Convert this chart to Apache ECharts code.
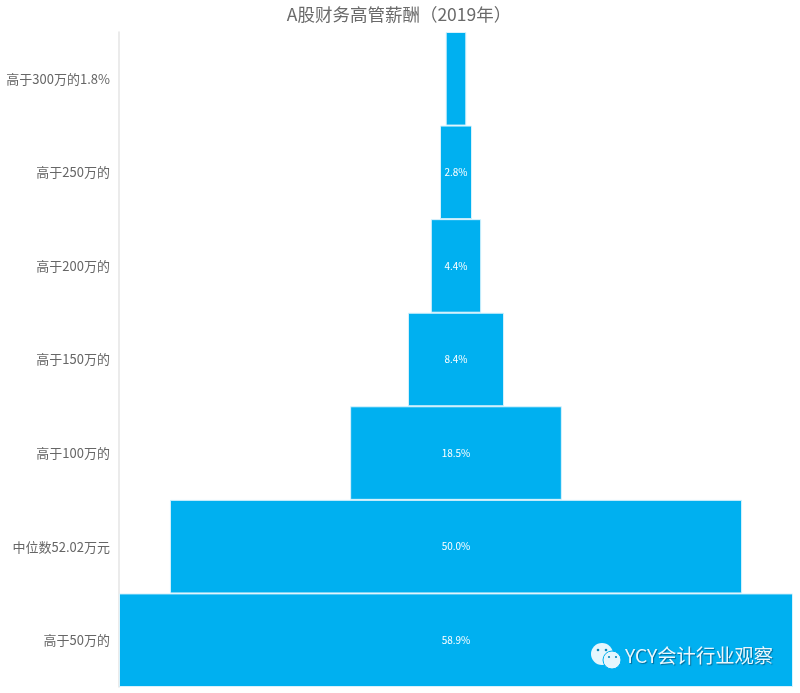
<!DOCTYPE html>
<html><head><meta charset="utf-8">
<style>html,body{margin:0;padding:0;background:#fff}#c{width:800px;height:693px}</style>
<script src="https://cdn.jsdelivr.net/npm/echarts@6/dist/echarts.min.js"></script>
</head><body><div id="c"></div>
<script>
const categories = ['高于300万的1.8%','高于250万的','高于200万的','高于150万的','高于100万的','中位数52.02万元','高于50万的'];
const shares = [1.8,2.8,4.4,8.4,18.5,50.0,58.9];
const axisMax = 58.9;
const spacer = shares.map(v => (axisMax - v) / 2);
const FONT = '"Noto Sans CJK SC","Noto Sans",sans-serif';
const chart = echarts.init(document.getElementById('c'), null, {renderer:'canvas'});
chart.setOption({
  animation:false,
  backgroundColor:'#fff',
  title:{text:'A股财务高管薪酬（2019年）',left:394,top:1,textAlign:'center',
    textStyle:{fontFamily:FONT,fontSize:17.5,fontWeight:'normal',color:'#6a6a6a'}},
  grid:{left:119,right:7,top:32,bottom:6},
  xAxis:{type:'value',min:0,max:axisMax,show:false},
  yAxis:{type:'category',inverse:true,data:categories,
    axisLine:{show:true,lineStyle:{color:'#e4e4e4',width:1.5}},
    axisTick:{show:false},
    axisLabel:{fontFamily:FONT,fontSize:13,color:'#666666',margin:9}},
  series:[
    {type:'bar',stack:'f',data:spacer,barCategoryGap:0,itemStyle:{color:'transparent'},silent:true},
    {type:'bar',stack:'f',data:shares,barCategoryGap:0,itemStyle:{color:'#00B0F0',borderColor:'#d8f2fc',borderWidth:1},
      label:{show:true,position:'inside',fontFamily:FONT,fontSize:10,color:'#ffffff',
        formatter:p => p.dataIndex === 0 ? '' : p.value.toFixed(1) + '%'}}
  ],
  graphic:[
    {type:'circle',shape:{cx:602,cy:654,r:11},style:{fill:'#e6f6fd'},z:10},
    {type:'circle',shape:{cx:612,cy:660,r:9},style:{fill:'#e6f6fd',stroke:'#00B0F0',lineWidth:1},z:11},
    {type:'circle',shape:{cx:598,cy:650,r:1.3},style:{fill:'#0a86b8'},z:12},
    {type:'circle',shape:{cx:606,cy:650,r:1.3},style:{fill:'#0a86b8'},z:12},
    {type:'circle',shape:{cx:609,cy:657,r:1.1},style:{fill:'#0a86b8'},z:12},
    {type:'circle',shape:{cx:616,cy:657,r:1.1},style:{fill:'#0a86b8'},z:12},
    {type:'text',x:625,y:646,z:12,style:{text:'YCY会计行业观察',fontFamily:FONT,fontSize:19.3,fill:'#eaf8fe',
      textShadowColor:'rgba(0,50,80,0.55)',textShadowOffsetX:1,textShadowOffsetY:1,textShadowBlur:1}}
  ]
});
</script></body></html>
